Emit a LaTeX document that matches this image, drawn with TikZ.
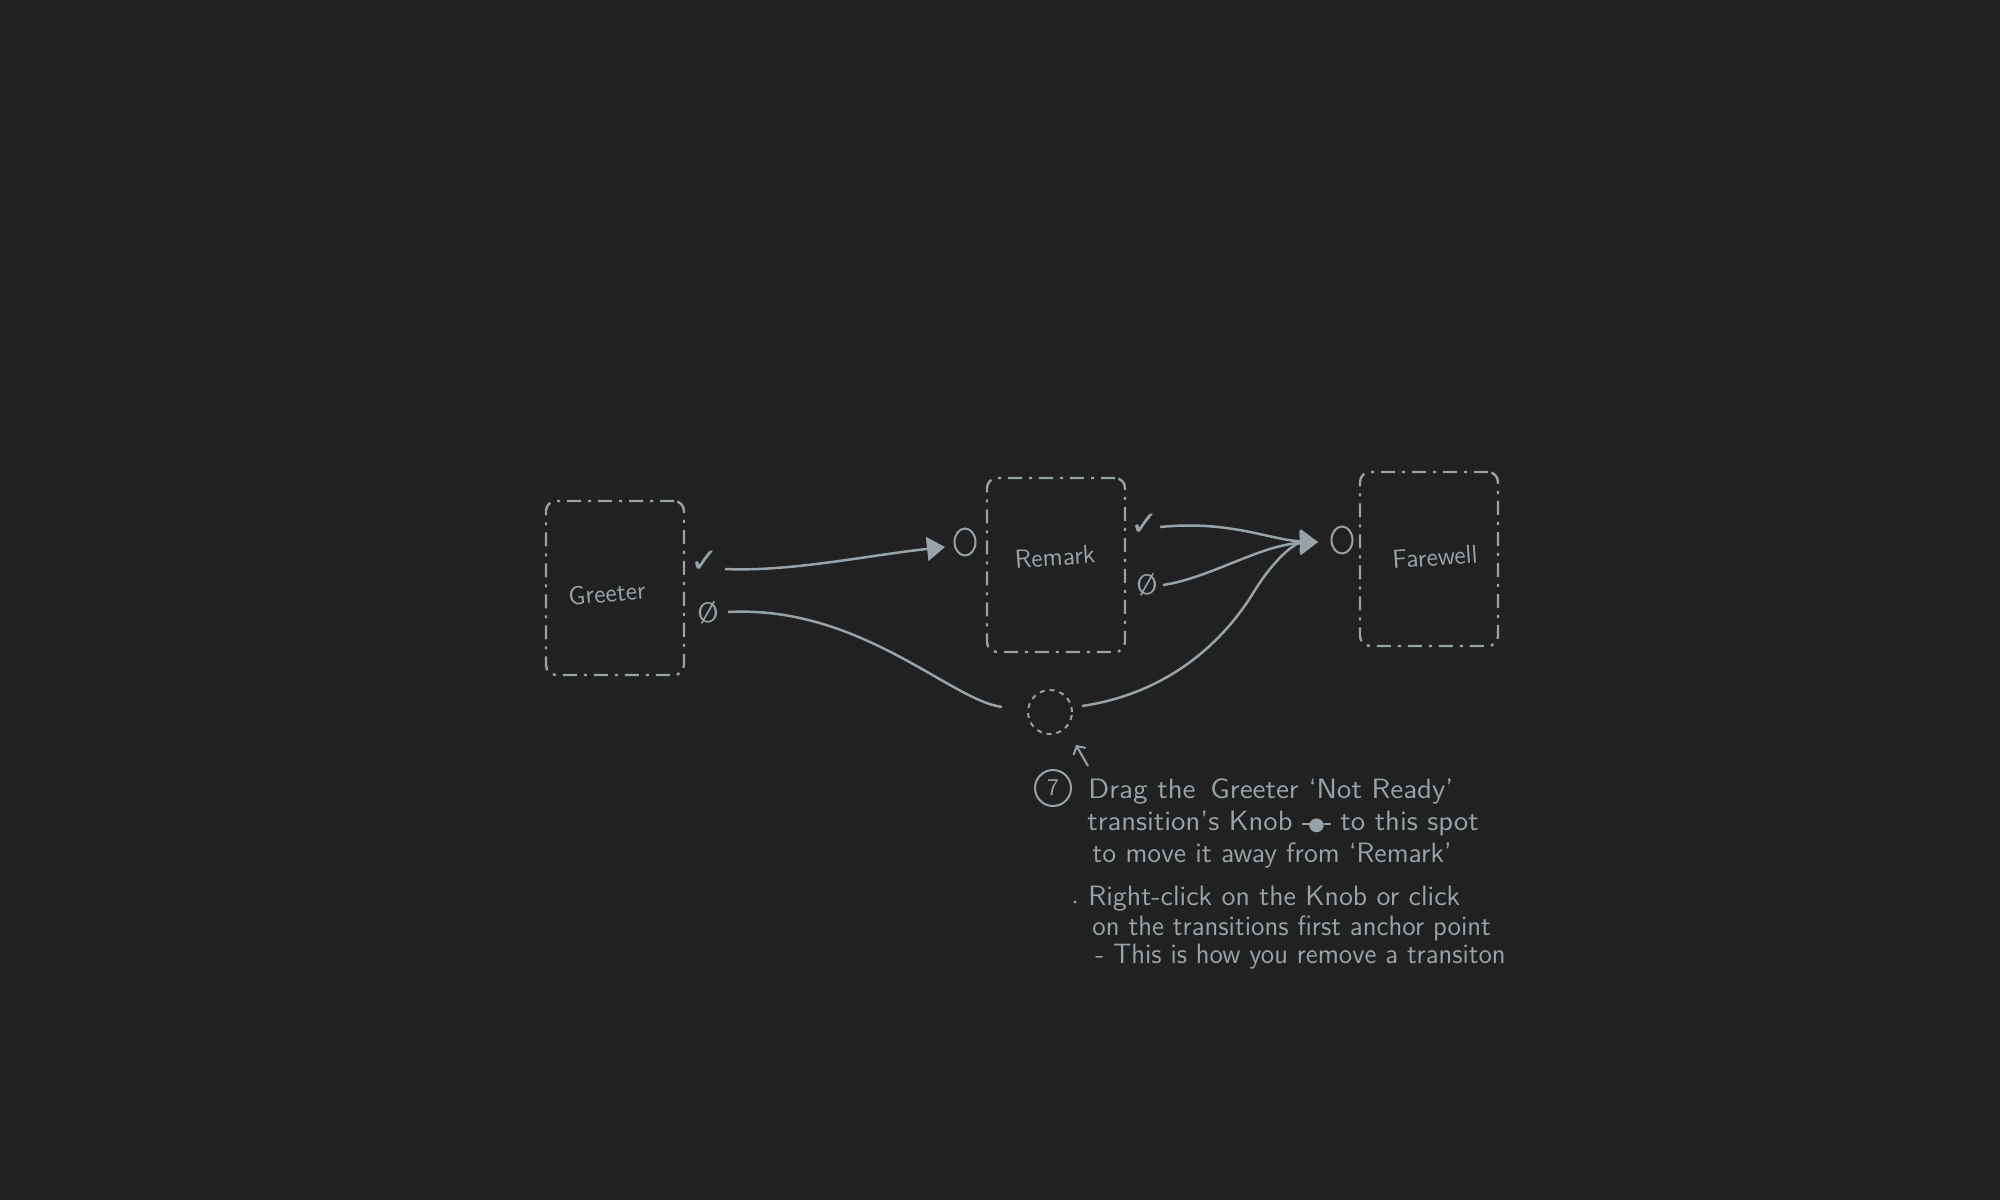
\documentclass[tikz,border=0pt]{standalone}
\usepackage{fontspec}
\newfontfamily\dv{DejaVu Sans}
\usetikzlibrary{arrows.meta,shapes.geometric}
\definecolor{ink}{HTML}{97A3A8}
\definecolor{bg}{HTML}{212121}
\begin{document}
\begin{tikzpicture}[x=0.5pt,y=-0.5pt,
  statebox/.style={draw=ink, line width=1.2pt, dash pattern=on 7pt off 3.5pt on 1.5pt off 3.5pt, rounded corners=5pt, minimum width=69pt, minimum height=87pt, inner sep=0pt},
  lbl/.style={text=ink, font=\sffamily\fontsize{13}{15}\selectfont, rotate=4, inner sep=0pt},
  okmark/.style={text=ink, font=\dv\fontsize{17}{19}\selectfont, inner sep=0pt},
  nomark/.style={text=ink, font=\sffamily\fontsize{14}{16}\selectfont, inner sep=0pt},
  inport/.style={draw=ink, ellipse, line width=1pt, minimum width=10.5pt, minimum height=13.5pt, inner sep=0pt},
  knobspot/.style={draw=ink, circle, line width=1pt, dash pattern=on 2.5pt off 2.5pt, minimum size=22pt, inner sep=0pt},
  wire/.style={draw=ink, line width=1.25pt},
  arr/.style={wire, -{Triangle[length=9pt,width=12pt]}},
  note/.style={text=ink, font=\sffamily\fontsize{14}{16}\selectfont, anchor=base west, inner sep=0pt},
]
\fill[bg] (0,0) rectangle (2000,1200);
\useasboundingbox (0,0) rectangle (2000,1200);

% state boxes
\node[statebox] (greeter) at (615,588) {};
\node[lbl,rotate=1] (greeterlbl) at (607,593) {Greeter};
\node[statebox] (remark) at (1056,565) {};
\node[lbl] (remarklbl) at (1055,557) {Remark};
\node[statebox] (farewell) at (1429,559) {};
\node[lbl] (farewelllbl) at (1435,557) {Farewell};

% outcome marks
\node[okmark] (gok) at (705,562) {✓};
\node[nomark] (gno) at (708,613) {Ø};
\node[okmark] (rok) at (1145,525) {✓};
\node[nomark] (rno) at (1147,585) {Ø};

% input ports
\node[inport] (rin) at (965,542) {};
\node[inport] (fin) at (1342,540) {};

% knob target spot
\node[knobspot] (spot) at (1050,712) {};

% connector ends
\coordinate (gokout) at (725,569);
\coordinate (gnoout) at (728,612);
\coordinate (rokout) at (1160,527);
\coordinate (rnoout) at (1163,585);
\coordinate (spotin) at (1002,707);
\coordinate (spotout) at (1082,706);
\coordinate (rtip) at (945,547);
\coordinate (ftip) at (1318,542);

\draw[arr] (gokout) .. controls (790,572) and (870,555) .. (rtip);
\draw[wire] (gnoout) .. controls (860,605) and (950,700) .. (spotin);
\draw[arr] (rokout) .. controls (1230,520) and (1270,540) .. (ftip);
\draw[arr] (rnoout) .. controls (1210,578) and (1260,545) .. (ftip);
\draw[arr] (spotout) .. controls (1170,693) and (1225,640) .. (1255,590) .. controls (1275,558) and (1295,543) .. (ftip);

% hint arrow
\coordinate (hintfrom) at (1088,766);
\coordinate (hintto) at (1076,745);
\draw[ink, line width=1pt, -{Straight Barb[length=3pt,width=7pt]}] (hintfrom) -- (hintto);

% notes
\node[draw=ink, circle, line width=1pt, minimum size=18pt, inner sep=0pt, text=ink, font=\sffamily\fontsize{12}{12}\selectfont] (step7) at (1053,788) {7};
\node[note] (n1) at (1088,798) {\scalebox{1.06}[1]{Drag the\enspace Greeter ‘Not Ready’}};
\node[note] (n2) at (1087,830) {\scalebox{1.05}[1]{transition’s Knob {\dv\fontsize{9}{9}\selectfont\rule[2.6pt]{3.5pt}{0.9pt}\kern-0.6pt●\kern-0.6pt\rule[2.6pt]{3.5pt}{0.9pt}} to this spot}};
\node[note] (n3) at (1092,862) {\scalebox{1.01}[1]{to move it away from ‘Remark’}};
\node[circle, fill=ink, inner sep=0pt, minimum size=1.6pt] (bullet) at (1075,902) {};
\node[note] (n4) at (1088,905) {\scalebox{1.02}[1]{Right-click on the Knob or click}};
\node[note] (n5) at (1092,935) {\scalebox{0.98}[1]{on the transitions first anchor point}};
\node[note] (n6) at (1095,963) {\scalebox{0.975}[1]{- This is how you remove a transiton}};
\end{tikzpicture}
\end{document}
